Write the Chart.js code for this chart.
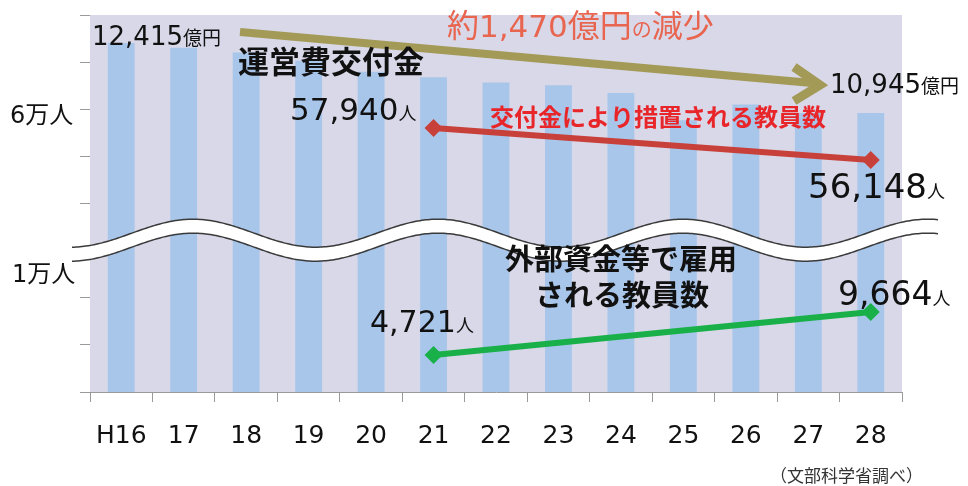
<!DOCTYPE html>
<html>
<head>
<meta charset="utf-8">
<script src="https://cdn.jsdelivr.net/npm/chart.js@4/dist/chart.umd.min.js"></script>
<style>
  body { margin: 0; background: #fff; }
  #wrap { width: 968px; height: 486px; }
</style>
</head>
<body>
<div id="wrap"><canvas id="c"></canvas></div>
<script>
// 年度
const years = ["H16", "17", "18", "19", "20", "21", "22", "23", "24", "25", "26", "27", "28"];
// 運営費交付金（億円）
const grant = [12415, 12317, 12214, 12043, 11813, 11695, 11585, 11528, 11366, 10792, 11123, 10945, 10945];
// 交付金により措置される教員数（人）
const staffGrant = [null, null, null, null, null, 57940, null, null, null, null, null, null, 56148];
// 外部資金等で雇用される教員数（人）
const staffExternal = [null, null, null, null, null, 4721, null, null, null, null, null, null, 9664];

const NUM = '"DejaVu Sans", "Noto Sans CJK JP", sans-serif';
const JP = '"Noto Sans CJK JP", sans-serif';

function runs(ctx, x, y, parts) {
  ctx.textBaseline = "alphabetic";
  ctx.textAlign = "left";
  for (const p of parts) {
    ctx.font = p[1];
    ctx.fillStyle = p[2];
    ctx.fillText(p[0], x, y);
    x += ctx.measureText(p[0]).width;
  }
}

const decor = {
  id: "decor",
  beforeDatasetsDraw(chart) {
    const { ctx, chartArea: a } = chart;
    ctx.save();
    ctx.fillStyle = "#d9d8e8";
    ctx.fillRect(a.left, a.top, a.right - a.left, a.bottom - a.top);
    ctx.restore();
  },
  afterDatasetsDraw(chart) {
    const { ctx, chartArea: a } = chart;
    const ys = chart.scales.y;
    ctx.save();

    // 波線（軸の省略）
    const mid = ys.getPixelForValue(3.37);
    const wave = (x) => mid - 14 * Math.cos(2 * Math.PI * (x - 193) / 245);
    const x0 = a.left - 18, x1 = a.right + 36;
    ctx.beginPath();
    for (let x = x0; x <= x1; x += 2) ctx.lineTo(x, wave(x));
    for (let x = x1; x >= x0; x -= 2) ctx.lineTo(x, wave(x) + 14);
    ctx.closePath();
    ctx.fillStyle = "#fff";
    ctx.fill();
    ctx.strokeStyle = "#3a3a3a";
    ctx.lineWidth = 1.5;
    ctx.beginPath();
    for (let x = x0; x <= x1; x += 2) ctx.lineTo(x, wave(x));
    ctx.stroke();
    ctx.beginPath();
    for (let x = x0; x <= x1; x += 2) ctx.lineTo(x, wave(x) + 14);
    ctx.stroke();

    // 減少の矢印
    ctx.strokeStyle = "#a39a58";
    ctx.lineWidth = 8;
    ctx.lineCap = "butt";
    ctx.beginPath();
    ctx.moveTo(240, 32);
    ctx.lineTo(812, 83);
    ctx.stroke();
    ctx.lineWidth = 9;
    ctx.lineJoin = "miter";
    ctx.beginPath();
    ctx.moveTo(794, 67);
    ctx.lineTo(820, 85);
    ctx.lineTo(794, 101);
    ctx.stroke();

    // 左軸ラベル
    runs(ctx, 10, 123, [["6", "24px " + NUM, "#111"], ["万人", "24px " + JP, "#111"]]);
    runs(ctx, 12, 282, [["1", "24px " + NUM, "#111"], ["万人", "24px " + JP, "#111"]]);

    // 注記
    runs(ctx, 92, 45, [["12,415", "26px " + NUM, "#111"], ["億円", "19px " + JP, "#111"]]);
    runs(ctx, 238, 73, [["運営費交付金", "bold 31px " + JP, "#111"]]);
    runs(ctx, 447, 37, [
      ["約", "32px " + JP, "#e8654f"],
      ["1,470", "31px " + NUM, "#e8654f"],
      ["億円", "32px " + JP, "#e8654f"],
      ["の", "20px " + JP, "#e8654f"],
      ["減少", "31px " + JP, "#e8654f"]
    ]);
    runs(ctx, 830, 93, [["10,945", "26px " + NUM, "#111"], ["億円", "19px " + JP, "#111"]]);
    runs(ctx, 290, 120, [["57,940", "31px " + NUM, "#111"], ["人", "18px " + JP, "#111"]]);
    runs(ctx, 490, 126, [["交付金により措置される教員数", "bold 24px " + JP, "#e8262a"]]);
    runs(ctx, 808, 198, [["56,148", "34px " + NUM, "#111"], ["人", "18px " + JP, "#111"]]);
    runs(ctx, 505, 270, [["外部資金等で雇用", "bold 29px " + JP, "#111"]]);
    runs(ctx, 535, 306, [["される教員数", "bold 29px " + JP, "#111"]]);
    runs(ctx, 370, 332, [["4,721", "30px " + NUM, "#111"], ["人", "18px " + JP, "#111"]]);
    runs(ctx, 838, 305, [["9,664", "33px " + NUM, "#111"], ["人", "18px " + JP, "#111"]]);
    runs(ctx, 770, 482, [["（文部科学省調べ）", "17px " + JP, "#333"]]);

    ctx.restore();
  }
};

new Chart(document.getElementById("c"), {
  type: "bar",
  data: {
    labels: years,
    datasets: [
      {
        type: "line",
        label: "交付金により措置される教員数",
        data: staffGrant,
        yAxisID: "yUp",
        spanGaps: true,
        borderColor: "#c8403a",
        backgroundColor: "#c8403a",
        borderWidth: 6,
        pointStyle: "rectRot",
        pointRadius: 9,
        pointBorderWidth: 0,
        order: 1
      },
      {
        type: "line",
        label: "外部資金等で雇用される教員数",
        data: staffExternal,
        yAxisID: "yLow",
        spanGaps: true,
        borderColor: "#19b04a",
        backgroundColor: "#19b04a",
        borderWidth: 6,
        pointStyle: "rectRot",
        pointRadius: 9,
        pointBorderWidth: 0,
        order: 1
      },
      {
        label: "運営費交付金",
        data: grant,
        yAxisID: "yBar",
        backgroundColor: "#a8c6ea",
        categoryPercentage: 1,
        barPercentage: 0.43,
        order: 2
      }
    ]
  },
  options: {
    responsive: true,
    maintainAspectRatio: false,
    animation: false,
    layout: { padding: { left: 0, right: 66, top: 15, bottom: 0 } },
    plugins: { legend: { display: false }, tooltip: { enabled: false } },
    scales: {
      x: {
        offset: true,
        grid: { drawOnChartArea: false, drawTicks: true, tickLength: 10, color: "#9a9a9a", offset: true },
        border: { display: true, color: "#9a9a9a" },
        ticks: { color: "#111", font: { family: "DejaVu Sans", size: 25 }, padding: 19, maxRotation: 0 },
        afterFit(s) { s.height = 94; }
      },
      y: {
        position: "left",
        min: 0,
        max: 8,
        ticks: { stepSize: 1, display: false },
        grid: { drawOnChartArea: false, drawTicks: true, tickLength: 10, color: "#9a9a9a" },
        border: { display: true, color: "#9a9a9a" },
        afterFit(s) { s.width = 90; }
      },
      yBar: { display: false, min: 5084, max: 13003 },
      yUp: { display: false, min: 43156, max: 64268 },
      yLow: { display: false, min: 468, max: 43805 }
    }
  },
  plugins: [decor]
});
</script>
</body>
</html>
